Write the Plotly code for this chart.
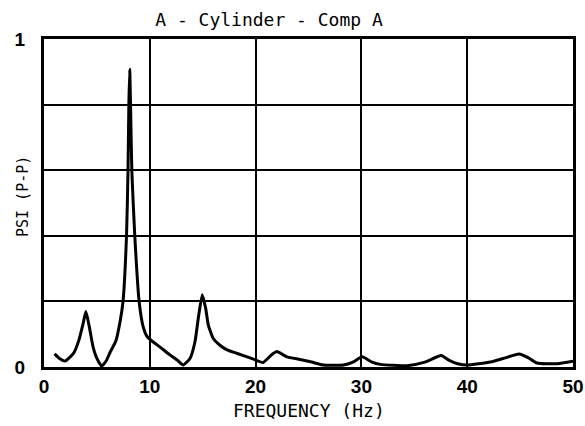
import plotly.graph_objects as go

freq_hz = [1.0, 1.5, 2.0, 2.8, 3.3, 3.7, 3.96, 4.28, 4.63, 5.0, 5.45, 5.9, 6.25, 6.8, 7.2,
           7.47, 7.8, 7.94, 8.02, 8.1, 8.18, 8.3, 8.58, 8.99, 9.37, 9.7, 10.1, 11.0, 11.9,
           12.6, 13.15, 13.8, 14.27, 14.58, 14.96, 15.28, 15.53, 16.0, 16.6, 17.3, 18.2,
           19.8, 20.7, 21.5, 22.0, 22.96, 24.2, 25.3, 26.4, 28.3, 29.2, 30.07, 31.0, 31.8,
           34.3, 36.0, 37.55, 38.3, 39.1, 40.0, 42.2, 43.6, 44.9, 45.8, 46.6, 48.5, 50.0]
psi_pp = [0.04, 0.025, 0.018, 0.042, 0.082, 0.133, 0.169, 0.123, 0.062, 0.026, 0.003, 0.02,
          0.045, 0.08, 0.14, 0.2, 0.4, 0.6, 0.8, 0.908, 0.8, 0.6, 0.4, 0.2, 0.123, 0.095,
          0.082, 0.06, 0.037, 0.021, 0.006, 0.026, 0.077, 0.148, 0.22, 0.179, 0.128, 0.087,
          0.067, 0.052, 0.042, 0.024, 0.014, 0.037, 0.047, 0.031, 0.023, 0.015, 0.006,
          0.006, 0.015, 0.031, 0.015, 0.008, 0.004, 0.015, 0.035, 0.02, 0.01, 0.006, 0.015,
          0.028, 0.04, 0.028, 0.012, 0.01, 0.018]

x_ticks = [0, 10, 20, 30, 40, 50]
y_grid = [0, 0.2, 0.4, 0.6, 0.8, 1.0]
y_labels = ["0", "", "", "", "", "1"]

title_text = "A - Cylinder - Comp A"
x_title = "FREQUENCY (Hz)"
y_title = "PSI (P-P)"

W, H = 585, 426
L, R, T, B = 44, 12, 39, 59

fig = go.Figure()
fig.add_trace(go.Scatter(x=freq_hz, y=psi_pp, mode="lines",
                         line=dict(color="black", width=3, shape="spline", smoothing=0.5),
                         showlegend=False, hoverinfo="skip"))

mono = "DejaVu Sans Mono"
tick_font = dict(family="Liberation Sans", size=19, color="black", weight="bold")
fig.update_layout(
    template="none",
    width=W, height=H,
    margin=dict(l=L, r=R, t=T, b=B, autoexpand=False),
    paper_bgcolor="white", plot_bgcolor="white",
    title=dict(text=title_text, font=dict(family=mono, size=18, color="black"),
               xref="container", x=269 / W, xanchor="center",
               yref="container", y=1 - 20 / H, yanchor="middle"),
    xaxis=dict(range=[0, 50], tickvals=x_ticks, showgrid=True, gridcolor="black",
               gridwidth=1.5, zeroline=False, showline=True, linecolor="black",
               linewidth=3, mirror=True, ticks="", ticklabelstandoff=0, automargin=False,
               tickfont=tick_font),
    yaxis=dict(range=[0, 1], tickvals=y_grid, ticktext=y_labels, showgrid=True,
               gridcolor="black", gridwidth=1.5, zeroline=False, showline=True,
               linecolor="black", linewidth=3, mirror=True, ticks="",
               ticklabelstandoff=12, automargin=False,
               tickfont=tick_font),
    annotations=[
        dict(text=x_title, xref="paper", yref="paper", x=0.5, y=-(410 - 367) / (H - T - B),
             xanchor="center", yanchor="middle", showarrow=False,
             font=dict(family=mono, size=18, color="black")),
        dict(text=y_title, xref="paper", yref="paper", x=(23 - L) / (W - L - R),
             y=(367 - 197) / (H - T - B), textangle=-90, xanchor="center",
             yanchor="middle", showarrow=False,
             font=dict(family=mono, size=15, color="black")),
    ],
)

fig.write_html("out.html")
